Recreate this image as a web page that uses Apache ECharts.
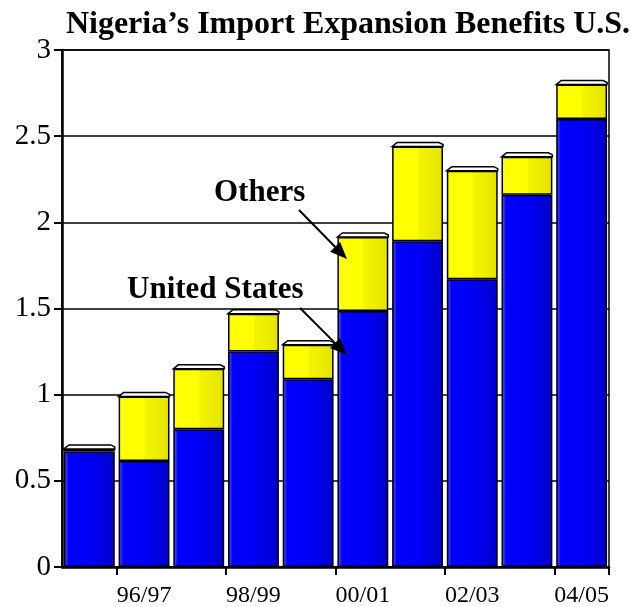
<!DOCTYPE html>
<html>
<head>
<meta charset="utf-8">
<script src="https://cdn.jsdelivr.net/npm/echarts@6/dist/echarts.min.js"></script>
<style>
  html, body { margin: 0; padding: 0; background: #fff; }
  #chart { width: 639px; height: 607px; }
</style>
</head>
<body>
<div id="chart"></div>
<script>
const years = ['95/96', '96/97', '97/98', '98/99', '99/00', '00/01', '01/02', '02/03', '03/04', '04/05']
const unitedStates = [0.67, 0.615, 0.80, 1.25, 1.09, 1.485, 1.89, 1.67, 2.16, 2.60]
const others = [0.015, 0.375, 0.35, 0.22, 0.20, 0.43, 0.55, 0.63, 0.22, 0.20]
const yTicks = [0, 0.5, 1, 1.5, 2, 2.5, 3]

const totals = unitedStates.map((v, i) => v + others[i])
const serif = '"Liberation Serif", "Times New Roman", serif'
const gapRatio = 0.07

const blueFill = new echarts.graphic.LinearGradient(0, 0, 1, 0, [
  { offset: 0, color: '#0000f0' },
  { offset: 0.04, color: '#3a3aff' },
  { offset: 0.09, color: '#0000ff' },
  { offset: 0.55, color: '#0000f4' },
  { offset: 0.8, color: '#0000dc' },
  { offset: 1, color: '#0000cc' }
])
const yellowFill = new echarts.graphic.LinearGradient(0, 0, 1, 0, [
  { offset: 0, color: '#ffff00' },
  { offset: 0.5, color: '#ffff00' },
  { offset: 0.52, color: '#f3f300' },
  { offset: 0.78, color: '#ecec00' },
  { offset: 1, color: '#e2e200' }
])

// flat 3D lid on top of each stack
function renderCap(params, api) {
  const top = api.coord([api.value(0), api.value(1)])
  const w = api.size([1, 0])[0] * (1 - gapRatio)
  const x0 = top[0] - w / 2
  const x1 = top[0] + w / 2
  const y = top[1]
  return {
    type: 'polygon',
    shape: { points: [[x0, y], [x0 + 5, y - 4], [x1 - 4, y - 4], [x1, y - 2], [x1, y]] },
    style: { fill: '#fff', stroke: '#000', lineWidth: 1.5 },
    z2: 10
  }
}

function arrow(x1, y1, x2, y2) {
  const dx = x2 - x1, dy = y2 - y1
  const len = Math.sqrt(dx * dx + dy * dy)
  const ux = dx / len, uy = dy / len
  const hl = 17, hw = 7
  const bx = x2 - ux * hl, by = y2 - uy * hl
  return [
    { type: 'line', z: 100, shape: { x1, y1, x2: bx + ux * 2, y2: by + uy * 2 }, style: { stroke: '#000', lineWidth: 2 } },
    { type: 'polygon', z: 100, shape: { points: [[x2, y2], [bx - uy * hw, by + ux * hw], [bx + uy * hw, by - ux * hw]] }, style: { fill: '#000' } }
  ]
}

const chart = echarts.init(document.getElementById('chart'), null, { renderer: 'canvas' })

chart.setOption({
  animation: false,
  title: {
    text: 'Nigeria\u2019s Import Expansion Benefits U.S.',
    left: 343,
    textAlign: 'center',
    top: 4,
    textStyle: { fontFamily: serif, fontSize: 32, fontWeight: 'bold', color: '#000' }
  },
  grid: {
    left: 62, right: 30, top: 50, bottom: 40,
    outerBoundsMode: 'none',
    show: true, borderColor: '#000', borderWidth: 1.5
  },
  xAxis: {
    type: 'category',
    data: years,
    axisLine: { lineStyle: { color: '#000', width: 2.5 } },
    axisTick: { show: true, length: 8, lineStyle: { color: '#000', width: 2 } },
    axisLabel: {
      interval: (i) => i % 2 === 1,
      fontFamily: serif, fontSize: 24, color: '#000', margin: 17
    }
  },
  yAxis: {
    type: 'value',
    min: 0, max: 3, interval: 0.5,
    axisLine: { show: true, lineStyle: { color: '#000', width: 2.5 } },
    axisTick: { show: true, length: 8, lineStyle: { color: '#000', width: 2 } },
    splitLine: { lineStyle: { color: '#000', width: 1.5 } },
    axisLabel: {
      fontFamily: serif, fontSize: 29, color: '#000', margin: 11,
      formatter: (v) => yTicks.includes(v) ? String(v) : ''
    }
  },
  series: [
    {
      name: 'United States',
      type: 'bar',
      stack: 'total',
      barCategoryGap: (gapRatio * 100) + '%',
      data: unitedStates,
      itemStyle: { color: blueFill, borderColor: '#000', borderWidth: 1.5 }
    },
    {
      name: 'Others',
      type: 'bar',
      stack: 'total',
      data: others,
      itemStyle: { color: yellowFill, borderColor: '#000', borderWidth: 1.5 }
    },
    {
      name: 'cap',
      type: 'custom',
      renderItem: renderCap,
      data: totals.map((t, i) => [i, t]),
      z: 5
    }
  ],
  graphic: [
    { type: 'text', z: 100, left: 214, top: 177, style: { text: 'Others', font: 'bold 31px ' + serif, fill: '#000' } },
    { type: 'text', z: 100, left: 127, top: 274, style: { text: 'United States', font: 'bold 31px ' + serif, fill: '#000' } },
    ...arrow(299, 210, 347, 259),
    ...arrow(300, 308, 347, 355)
  ]
})
</script>
</body>
</html>
